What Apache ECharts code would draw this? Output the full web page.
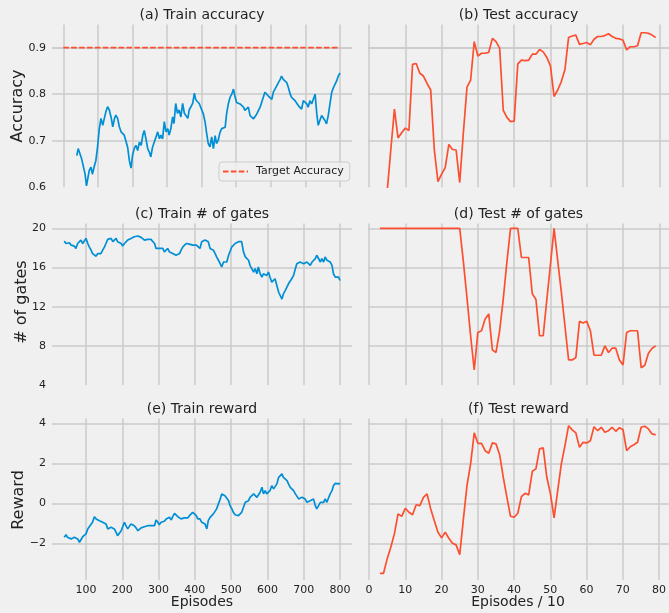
<!DOCTYPE html>
<html>
<head>
<meta charset="utf-8">
<script src="https://cdn.jsdelivr.net/npm/echarts@6/dist/echarts.min.js"></script>
<style>
html,body{margin:0;padding:0;background:#f0f0f0;}
#chart{width:669px;height:613px;}
</style>
</head>
<body>
<div id="chart"></div>
<script>
// ---------------- DATA ----------------
const accEpisodes = [39,43,48,53,58,63,67,70,75,80,84,90,94,99,104,109,114,119,123,128,133,138,143,148,152,157,162,167,172,176,181,186,191,196,200,205,210,215,220,225,230,234,239,244,249,253,258,263,268,273,278,282,287,292,297,302,306,311,316,320,325,330,335,340,345,350,354,360,364,369,374,379,383,388,393,398,
405,410,414,419,424,429,434,439,443,448,453,458,463,468,472,477,482,487,492,496,501,506,511,516,521,525,530,535,540,545,550,554,559,564,569,574,578,583,588,593,598,603,607,612,617,622,627,631,636,641,646,651,656,660,665,670,675,680,684,689,694,699,704,708,713,718,723,728,733,737,742,747,752,756,761,766,771,776,781,785,790,795,800];
const trainAccuracy = [0.668,0.683,0.679,0.661,0.657,0.628,0.603,0.600,0.636,0.643,0.628,0.646,0.657,0.686,0.726,0.748,0.733,0.730,0.762,0.773,0.766,0.751,0.730,0.748,0.755,0.748,0.730,0.719,0.719,0.712,0.708,0.686,0.657,0.641,0.668,0.683,0.690,0.679,0.697,0.690,0.712,0.722,0.704,0.683,0.675,0.665,0.686,0.697,0.708,0.719,0.704,0.712,0.704,0.741,0.719,0.726,0.712,0.726,0.751,0.737,0.780,0.759,0.766,0.751,0.780,0.759,0.759,0.748,0.766,0.766,0.780,0.802,0.788,0.788,0.780,0.777,
0.757,0.740,0.718,0.694,0.687,0.708,0.683,0.711,0.694,0.701,0.718,0.726,0.722,0.729,0.757,0.779,0.793,0.800,0.811,0.796,0.782,0.786,0.779,0.782,0.772,0.765,0.761,0.772,0.754,0.757,0.747,0.750,0.757,0.754,0.772,0.768,0.793,0.804,0.807,0.796,0.793,0.789,0.804,0.811,0.818,0.821,0.832,0.839,0.832,0.828,0.825,0.814,0.800,0.793,0.793,0.786,0.782,0.775,0.779,0.768,0.786,0.789,0.779,0.772,0.786,0.779,0.782,0.800,0.757,0.733,0.744,0.754,0.754,0.744,0.736,0.754,0.779,0.804,0.814,0.818,0.828,0.839,0.846];
const targetEpisodes = [0, 800];
const targetAccuracy = [0.9, 0.9];

const trainEpisodes = [40,45,49,54,59,63,68,72,77,82,86,91,95,100,105,109,114,118,123,128,132,137,141,146,151,155,160,164,169,174,178,183,187,192,197,201,206,210,215,220,224,229,233,238,243,247,252,256,261,266,270,275,279,284,289,293,298,302,307,312,316,321,325,330,335,339,344,348,353,358,362,367,371,376,381,385,390,394,399,404,408,
414,419,423,428,433,437,442,446,451,456,460,465,470,474,479,483,488,493,497,502,506,511,515,520,525,529,534,539,543,548,552,557,562,566,571,575,580,585,589,594,598,603,607,612,617,621,626,631,635,640,644,649,654,658,663,667,672,677,681,686,690,695,700,704,709,713,718,723,727,732,736,741,746,750,755,759,764,769,773,778,782,787,792,796,800];
const trainGates = [18.69,18.45,18.38,18.52,18.28,18.35,18.18,17.94,18.45,18.45,
18.80,18.45,18.63,18.97,18.45,18.11,17.77,17.42,17.25,17.15,
17.42,17.25,17.42,17.77,18.11,18.45,18.87,18.80,18.97,18.63,
18.80,18.97,18.63,18.73,18.45,18.18,18.45,18.52,18.80,18.97,
18.97,18.80,19.14,19.31,19.21,19.07,19.07,18.97,18.80,18.97,
18.87,18.97,18.87,18.80,18.45,17.94,17.94,17.94,17.94,17.94,
17.59,17.77,17.94,17.59,17.59,17.42,17.32,17.25,17.18,17.42,
17.77,18.11,18.28,18.45,18.28,18.38,18.28,18.28,18.18,18.28,
18.11,
17.94,18.63,18.80,18.80,18.97,18.63,17.94,18.11,17.77,17.42,
17.08,16.74,16.56,16.05,16.56,16.74,16.56,17.25,17.42,18.11,
18.28,18.45,18.38,18.63,18.45,18.63,17.59,17.08,16.91,16.74,
16.22,16.39,15.53,15.88,15.36,16.05,15.36,15.02,15.36,15.53,
15.19,15.53,15.02,14.50,14.33,14.85,14.67,13.47,13.30,12.78,
13.30,13.64,13.64,14.33,14.50,14.85,15.19,15.88,16.39,16.56,
16.56,16.74,16.39,16.39,16.56,16.39,16.22,16.56,16.39,16.91,
17.25,17.08,16.56,16.91,16.56,17.08,16.74,16.91,16.56,16.22,
15.36,15.02,14.85,15.02,14.67];
const trainReward = [-1.70,-1.57,-1.70,-1.67,-1.78,-1.87,-1.70,-1.67,-1.78,-1.95,
-1.87,-1.67,-1.62,-1.53,-1.28,-1.17,-1.23,-0.95,-0.67,-0.78,
-0.83,-0.87,-0.83,-0.95,-0.92,-1.03,-1.28,-1.37,-1.20,-1.12,
-1.28,-1.45,-1.62,-1.53,-1.37,-1.17,-0.95,-1.12,-1.28,-1.20,
-1.03,-0.95,-1.12,-1.23,-1.37,-1.33,-1.23,-1.23,-1.17,-1.23,
-1.12,-1.17,-1.12,-1.03,-1.12,-0.83,-0.95,-1.07,-0.95,-0.87,
-0.90,-0.78,-0.87,-0.70,-0.83,-0.67,-0.50,-0.57,-0.67,-0.70,
-0.78,-0.70,-0.73,-0.67,-0.73,-0.62,-0.53,-0.45,-0.37,-0.62,
-0.78,
-0.78,-0.95,-0.87,-1.03,-1.28,-0.87,-0.70,-0.62,-0.53,-0.45,
-0.28,-0.03,0.22,0.47,0.47,0.38,0.38,0.13,-0.12,-0.28,
-0.45,-0.57,-0.62,-0.62,-0.57,-0.45,-0.20,0.05,-0.03,0.13,
0.30,0.22,0.47,0.55,0.30,0.38,0.55,0.80,0.47,0.63,
0.47,0.50,0.63,0.88,0.72,0.63,0.97,1.30,1.38,1.47,
1.30,1.22,1.13,0.97,0.80,0.72,0.63,0.47,0.38,0.22,
0.22,0.30,0.33,0.22,0.05,-0.03,0.13,0.05,0.22,-0.12,
-0.28,-0.12,0.05,0.13,0.05,0.22,0.05,0.30,0.47,0.63,
0.88,1.00,1.05,0.97,1.00];

const testEpisodes = [3,4,5,6,7,8,9,10,11,12,13,14,15,16,17,18,19,20,21,22,23,24,25,26,27,28,29,30,31,32,33,34,35,36,37,38,39,40,41,42,43,44,45,46,47,48,49,50,51,52,53,54,55,56,57,58,59,60,61,62,63,64,65,66,67,68,69,70,71,72,73,74,75,76,77,78,79];
const testAccuracy = [0.55,0.55,0.59,0.68,0.768,0.706,0.717,0.727,0.722,0.864,0.866,0.845,0.839,0.823,0.809,0.680,0.612,0.628,0.642,0.692,0.681,0.680,0.610,0.717,0.815,0.830,0.913,0.882,0.888,0.888,0.890,0.920,0.913,0.899,0.765,0.750,0.741,0.742,0.865,0.873,0.872,0.873,0.886,0.886,0.896,0.891,0.879,0.861,0.795,0.809,0.827,0.853,0.922,0.925,0.927,0.907,0.909,0.911,0.906,0.918,0.924,0.924,0.926,0.930,0.924,0.920,0.919,0.916,0.895,0.902,0.902,0.904,0.932,0.932,0.931,0.927,0.922];
const testGates = [20,20,20,20,20,20,20,20,20,20,20,20,20,20,20,20,20,20,20,20,20,20,20,16.6,12.9,9.0,5.53,9.37,9.54,10.74,11.26,7.59,7.32,9.54,12.80,16.57,20,20,20,17.02,17.02,17.02,13.31,12.73,9.03,9.03,12.7,16.3,20,16.7,13.49,10.0,6.56,6.56,6.80,10.50,10.33,10.50,9.54,7.04,7.04,7.04,8.00,7.32,7.76,7.76,6.56,6.05,9.37,9.54,9.54,9.54,5.77,6.01,7.25,7.73,8.00];
const testReward = [-3.5,-3.5,-2.78,-2.2,-1.53,-0.53,-0.65,-0.25,-0.45,-0.57,-0.07,-0.12,0.30,0.47,-0.28,-0.87,-1.45,-1.73,-1.45,-1.75,-2.0,-2.08,-2.57,-0.8,0.88,1.97,3.52,3.0,3.0,2.63,2.5,3.02,2.97,2.43,1.3,0.3,-0.65,-0.7,-0.5,0.33,0.5,0.42,1.6,1.72,2.72,2.77,1.3,0.47,-0.73,0.63,1.97,2.88,3.88,3.67,3.52,2.8,3.05,3.02,3.13,3.83,3.63,3.8,3.55,3.63,3.8,3.6,3.78,3.68,2.63,2.83,2.93,3.05,3.8,3.85,3.72,3.47,3.42];

// tick labels
const accXTicks = [0,100,200,300,400,500,600,700,800];
const trainXTicks = [100,200,300,400,500,600,700,800];
const testXTicks = [0,10,20,30,40,50,60,70,80];
const accYTicks = [0.6,0.7,0.8,0.9];
const gateYTicks = [4,8,12,16,20];
const rewardYTicks = [-2,0,2,4];

const titles = ['(a) Train accuracy','(b) Test accuracy','(c) Train # of gates','(d) Test # of gates','(e) Train reward','(f) Test reward'];

// ---------------- LAYOUT ----------------
const BLUE = '#008fd5', RED = '#fc4f30', GRID = '#cbcbcb', TXT = '#222222';
const FONT = 'DejaVu Sans';
const cols = [{l:52, r:352}, {l:368, r:669}];
const rows = [
  {t:24.4, b:187.2, y:[0.6,0.95], ticks:accYTicks, hideMin:true, dec:1},
  {t:223.4, b:385.0, y:[4,20.5], ticks:gateYTicks, hideMin:true, dec:0},
  {t:418.5, b:580.1, y:[-3.84,4.24], ticks:rewardYTicks, hideMin:false, dec:0}
];
const xRanges = [
  [[-32.7,834.7],[-0.28,82.67]],
  [[6.3,833.1],[-0.28,82.67]],
  [[6.3,833.1],[-0.28,82.67]]
];
const xTicksFor = [[accXTicks,testXTicks],[trainXTicks,testXTicks],[trainXTicks,testXTicks]];

const seriesFor = [
  [[{name:'train', x:accEpisodes, y:trainAccuracy, color:BLUE},
    {name:'Target Accuracy', x:targetEpisodes, y:targetAccuracy, color:RED, dashed:true}],
   [{name:'test', x:testEpisodes, y:testAccuracy, color:RED}]],
  [[{name:'train', x:trainEpisodes, y:trainGates, color:BLUE}],
   [{name:'test', x:testEpisodes, y:testGates, color:RED}]],
  [[{name:'train', x:trainEpisodes, y:trainReward, color:BLUE}],
   [{name:'test', x:testEpisodes, y:testReward, color:RED}]]
];

const grid = [], xAxis = [], yAxis = [], series = [], graphic = [];
function lin(v, d0, d1, p0, p1){ return p0 + (v - d0) / (d1 - d0) * (p1 - p0); }

rows.forEach((row, ri) => {
  cols.forEach((col, ci) => {
    const xr = xRanges[ri][ci];
    const xt = xTicksFor[ri][ci];
    const yt = row.ticks;
    // horizontal grid lines (H)
    const hTop = lin(yt[yt.length-1], row.y[0], row.y[1], row.b, row.t);
    const hBot = lin(yt[0], row.y[0], row.y[1], row.b, row.t);
    let gi = grid.length;
    grid.push({left: col.l, width: col.r - col.l, top: hTop, height: hBot - hTop});
    xAxis.push({gridIndex: gi, type:'value', min:0, max:1, show:false});
    yAxis.push({gridIndex: gi, type:'value', min: yt[0], max: yt[yt.length-1], interval: yt[1]-yt[0],
      axisLine:{show:false}, axisTick:{show:false},
      splitLine:{show:true, showMinLine: !row.hideMin, lineStyle:{color:GRID, width:1.5}},
      axisLabel:{show: ci === 0, margin:6, color:TXT, fontFamily:FONT, fontSize:11,
        formatter: v => row.dec ? v.toFixed(row.dec) : String(Math.round(v)).replace('-', '\u2212')}
    });
    // vertical grid lines (V)
    const vL = lin(xt[0], xr[0], xr[1], col.l, col.r);
    const vR = lin(xt[xt.length-1], xr[0], xr[1], col.l, col.r);
    gi = grid.length;
    grid.push({left: vL, width: vR - vL, top: row.t, height: row.b - row.t});
    xAxis.push({gridIndex: gi, type:'value', min: xt[0], max: xt[xt.length-1], interval: xt[1]-xt[0],
      axisLine:{show:false}, axisTick:{show:false},
      splitLine:{show:true, lineStyle:{color:GRID, width:1.5}},
      axisLabel:{show: ri === 2, margin:5, color:TXT, fontFamily:FONT, fontSize:11}
    });
    yAxis.push({gridIndex: gi, type:'value', min:0, max:1, show:false});
    // data grid (D)
    gi = grid.length;
    grid.push({left: col.l, width: col.r - col.l, top: row.t, height: row.b - row.t});
    xAxis.push({gridIndex: gi, type:'value', min: xr[0], max: xr[1], show:false});
    yAxis.push({gridIndex: gi, type:'value', min: row.y[0], max: row.y[1], show:false});
    seriesFor[ri][ci].forEach(s => {
      series.push({
        name: s.name, type:'line', xAxisIndex: gi, yAxisIndex: gi,
        data: s.x.map((xv, k) => [xv, s.y[k]]),
        symbol:'none', showSymbol:false, clip:true, silent:true,
        lineStyle:{color:s.color, width: s.dashed ? 1.6 : 1.7, type: s.dashed ? [5.5, 2.4] : 'solid'},
        itemStyle:{color:s.color},
        z: s.dashed ? 3 : 2
      });
    });
    // title
    graphic.push({type:'text', x:(col.l + col.r)/2, y: row.t - 9.5,
      style:{text: titles[ri*2+ci], font: '14px "' + FONT + '"', fill: TXT, textAlign:'center', textVerticalAlign:'middle'}});
  });
});

const yNames = [{t:'Accuracy', x:18, y:106}, {t:'# of gates', x:22, y:302}, {t:'Reward', x:19, y:500}];
yNames.forEach(n => graphic.push({type:'text', x:n.x, y:n.y, rotation: Math.PI/2,
  style:{text:n.t, font:'16px "' + FONT + '"', fill:TXT, textAlign:'center', textVerticalAlign:'middle'}}));
graphic.push({type:'text', x:202, y:602, style:{text:'Episodes', font:'14px "' + FONT + '"', fill:TXT, textAlign:'center', textVerticalAlign:'middle'}});
graphic.push({type:'text', x:518, y:602, style:{text:'Episodes / 10', font:'14px "' + FONT + '"', fill:TXT, textAlign:'center', textVerticalAlign:'middle'}});

const chart = echarts.init(document.getElementById('chart'), null, {renderer:'canvas'});
chart.setOption({
  backgroundColor:'#f0f0f0',
  animation:false,
  grid, xAxis, yAxis, series, graphic,
  legend:{
    data:['Target Accuracy'], left:219, top:162, orient:'horizontal',
    itemWidth:25, itemHeight:10, padding:[4,6,4,3],
    itemStyle:{opacity:0},
    backgroundColor:'rgba(240,240,240,0.8)', borderColor:'#cccccc', borderWidth:1, borderRadius:3,
    textStyle:{fontFamily:FONT, fontSize:11, color:TXT, padding:[0,0,0,3]},
    selectedMode:false
  }
});
</script>
</body>
</html>
